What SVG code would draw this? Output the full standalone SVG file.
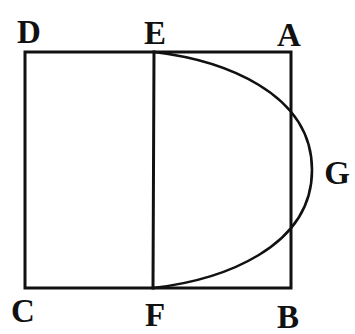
<svg xmlns="http://www.w3.org/2000/svg" width="355" height="334" viewBox="0 0 355 334">
<style>
.ln{fill:none;stroke:#111;stroke-width:3;stroke-linecap:square}
.cv{fill:none;stroke:#111;stroke-width:2.6}
.lb{font-family:"Liberation Serif","Times New Roman",serif;font-weight:bold;font-size:33px;fill:#111;text-anchor:middle}
</style>
<rect width="355" height="334" fill="#fff"/>
<g id="connectors">
<path class="ln" d="M25,52 H291 V288 H25 Z"/>
<path class="ln" d="M154,52 L153,288"/>
<path class="cv" d="M154,52 C222,60 312,92 312,170 C312,248 222,280 153,288"/>
</g>
<g id="D"><text class="lb" x="29" y="43">D</text></g>
<g id="E"><text class="lb" x="155" y="44">E</text></g>
<g id="A"><text class="lb" x="289" y="46">A</text></g>
<g id="G"><text class="lb" x="337" y="184">G</text></g>
<g id="C"><text class="lb" x="23" y="322">C</text></g>
<g id="F"><text class="lb" x="155" y="326">F</text></g>
<g id="B"><text class="lb" x="288" y="328">B</text></g>
</svg>
